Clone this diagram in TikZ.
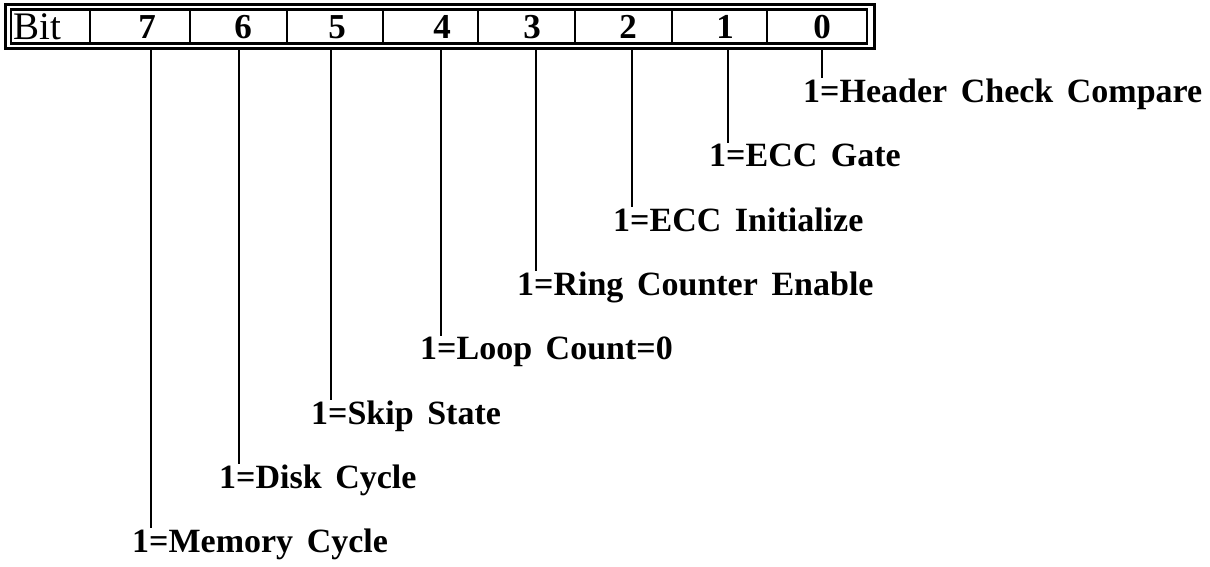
\documentclass[tikz,border=0pt]{standalone}
\usepackage{fontspec}
\setmainfont{Liberation Serif}
\begin{document}
\begin{tikzpicture}[x=1pt,y=-1pt,
  frame/.style={line width=3pt},
  divider/.style={line width=2.3pt},
  bitnum/.style={font=\fontsize{35}{36}\selectfont\bfseries, inner sep=0pt},
  desc/.style={font=\fontsize{34}{35}\selectfont\bfseries, inner sep=0pt, anchor=base west},
  lead/.style={line width=2.8pt}]
\newcommand{\gap}{\hspace{0.4em}}
\useasboundingbox (0,0) rectangle (1210,566);
% register frame: double border
\draw[frame] (5,4) rectangle (874,48);
\draw[divider] (11,9.5) rectangle (867,43.5);
\foreach \x in {90,190,287,383,478,575,672,767}
  \draw[divider] (\x,9.5) -- (\x,43.5);
% cell captions
\node[font=\fontsize{39}{40}\selectfont, inner sep=0pt, anchor=base west] (bit) at (13,39.5) {Bit};
\node[bitnum, anchor=base] (b7) at (147,38.5) {7};
\node[bitnum, anchor=base] (b6) at (243,38.5) {6};
\node[bitnum, anchor=base] (b5) at (337,38.5) {5};
\node[bitnum, anchor=base] (b4) at (442,38.5) {4};
\node[bitnum, anchor=base] (b3) at (532,38.5) {3};
\node[bitnum, anchor=base] (b2) at (628,38.5) {2};
\node[bitnum, anchor=base] (b1) at (725,38.5) {1};
\node[bitnum, anchor=base] (b0) at (822,38.5) {0};
% tap points on the lower edge of the frame
\coordinate (t7) at (151,48);
\coordinate (t6) at (239,48);
\coordinate (t5) at (331,48);
\coordinate (t4) at (441,48);
\coordinate (t3) at (536,48);
\coordinate (t2) at (632,48);
\coordinate (t1) at (728,48);
\coordinate (t0) at (822,48);
% bit descriptions
\node[desc] (l0) at (803,102) {1=Header\gap Check\gap Compare};
\node[desc] (l1) at (709,166) {1=ECC\gap Gate};
\node[desc] (l2) at (613,231) {1=ECC\gap Initialize};
\node[desc] (l3) at (517,295) {1=Ring\gap Counter\gap Enable};
\node[desc] (l4) at (420,359) {1=Loop\gap Count=0};
\node[desc] (l5) at (311,424) {1=Skip\gap State};
\node[desc] (l6) at (219,488) {1=Disk\gap Cycle};
\node[desc] (l7) at (132,552) {1=Memory\gap Cycle};
% leader lines
\foreach \i in {0,...,7}
  \draw[lead] (t\i) -- (t\i |- l\i.north);
\end{tikzpicture}
\end{document}
